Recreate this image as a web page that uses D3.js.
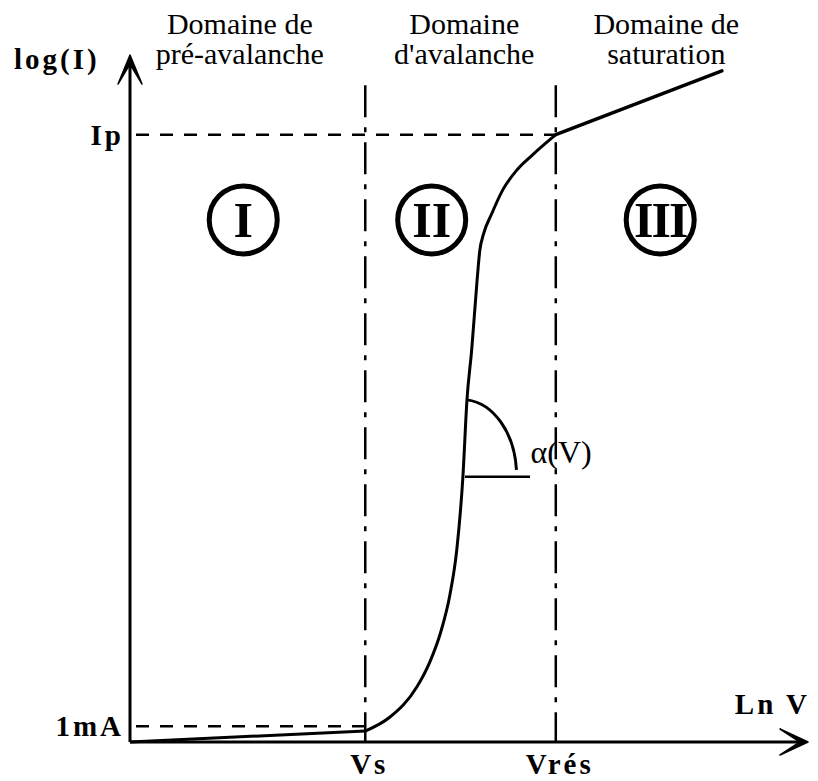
<!DOCTYPE html>
<html>
<head>
<meta charset="utf-8">
<script src="https://cdn.jsdelivr.net/npm/d3@7"></script>
<style>
  body { margin: 0; background: #fff; }
  svg { display: block; }
</style>
</head>
<body>
<div id="chart"></div>
<script>
// axis units are arbitrary: 0..100 along Ln V and log(I)
const preAvalanche = [[0, 0], [34.7, 1.6]]
const avalanche = [
  [34.7, 1.6], [38.3, 3.6], [42.3, 8.0], [44.2, 11.6], [45.8, 15.9],
  [47.2, 21.5], [48.2, 28.0], [49.1, 38.6], [49.7, 49.8], [50.4, 57.1],
  [51.2, 67.3], [51.6, 71.6], [52.1, 73.8], [53.4, 77.0], [55.0, 80.4],
  [57.1, 83.3], [59.3, 85.4], [62.8, 88.4]
]
const saturation = [[62.8, 88.4], [87.3, 97.7]]

const domainLines = [["Domaine de", "pré-avalanche"], ["Domaine", "d'avalanche"], ["Domaine de", "saturation"]]
const domainX = [16.2, 49.3, 79.1]

const regionNames = ["I", "II", "III"]
const regionX = [16.7, 44.5, 78.2]
const regionY = 76.0

const xMarks = [{ label: "Vs", v: 34.7 }, { label: "Vrés", v: 62.8 }]
const yMarks = [{ label: "Ip", v: 88.4, to: 62.8 }, { label: "1mA", v: 2.3, to: 34.7 }]
const markTop = 95.6

// slope angle marker alpha(V)
const alphaBase = [[49.4, 38.6], [59.0, 38.6]]
const alphaArc = [[49.7, 49.8], [57.0, 39.6]]

var width = 818, height = 781
var serif = "Times, Tinos, 'Times New Roman', serif"

var x = d3.scaleLinear().domain([0, 100]).range([130, 808])
var y = d3.scaleLinear().domain([0, 100]).range([742, 55])

const svg = d3.select("#chart")
  .append("svg")
  .attr("width", width)
  .attr("height", height)
  .attr("font-family", serif)

// dash-dot boundaries
svg.append("g")
  .selectAll("line")
  .data(xMarks)
  .join("line")
  .attr("x1", d => x(d.v)).attr("x2", d => x(d.v))
  .attr("y1", y(markTop)).attr("y2", y(0))
  .attr("stroke", "#000")
  .attr("stroke-width", 2.5)
  .attr("stroke-dasharray", "32,10,5,10")

// dashed levels
svg.append("g")
  .selectAll("line")
  .data(yMarks)
  .join("line")
  .attr("x1", x(0)).attr("x2", d => x(d.to))
  .attr("y1", d => y(d.v)).attr("y2", d => y(d.v))
  .attr("stroke", "#000")
  .attr("stroke-width", 2.5)
  .attr("stroke-dasharray", "13,11")
  .attr("stroke-dashoffset", -6)

// axes
svg.append("line")
  .attr("x1", x(0)).attr("x2", x(100) - 6)
  .attr("y1", y(0)).attr("y2", y(0))
  .attr("stroke", "#000").attr("stroke-width", 3)
svg.append("line")
  .attr("x1", x(0)).attr("x2", x(0))
  .attr("y1", y(0)).attr("y2", y(100) + 6)
  .attr("stroke", "#000").attr("stroke-width", 3)

svg.append("path")
  .attr("d", `M${x(100)},${y(0)} L${x(100) - 28},${y(0) - 13} L${x(100) - 8},${y(0)} L${x(100) - 28},${y(0) + 13} Z`)
  .attr("fill", "#000").attr("stroke", "#000").attr("stroke-width", 1.5).attr("stroke-linejoin", "round")
svg.append("path")
  .attr("d", `M${x(0)},${y(100)} L${x(0) - 12},${y(100) + 29} L${x(0)},${y(100) + 9} L${x(0) + 12},${y(100) + 29} Z`)
  .attr("fill", "#000").attr("stroke", "#000").attr("stroke-width", 1.5).attr("stroke-linejoin", "round")

// I-V curve
line = d3.line().x(d => x(d[0])).y(d => y(d[1]))
curve = d3.line().x(d => x(d[0])).y(d => y(d[1])).curve(d3.curveMonotoneX)

svg.append("path").attr("d", line(preAvalanche))
  .attr("fill", "none").attr("stroke", "#000").attr("stroke-width", 3)
svg.append("path").attr("d", curve(avalanche))
  .attr("fill", "none").attr("stroke", "#000").attr("stroke-width", 3)
svg.append("path").attr("d", line(saturation))
  .attr("fill", "none").attr("stroke", "#000").attr("stroke-width", 3.5).attr("stroke-linecap", "round")

// angle marker
svg.append("path").attr("d", line(alphaBase))
  .attr("fill", "none").attr("stroke", "#000").attr("stroke-width", 2.5)
var ax0 = x(alphaArc[0][0]), ay0 = y(alphaArc[0][1]), ax1 = x(alphaArc[1][0]), ay1 = y(alphaArc[1][1])
svg.append("path")
  .attr("d", `M${ax0},${ay0} A${ax1 - ax0 + 5},${ay1 - ay0 + 6} 0 0 1 ${ax1},${ay1}`)
  .attr("fill", "none").attr("stroke", "#000").attr("stroke-width", 3)
svg.append("text")
  .attr("x", ax1 + 14).attr("y", y(alphaBase[0][1]) - 14)
  .attr("font-size", 32)
  .text("α(V)")

// domain titles
svg.append("g")
  .selectAll("text")
  .data(domainLines)
  .join("text")
  .attr("text-anchor", "middle")
  .attr("font-size", 30)
  .attr("x", (d, i) => x(domainX[i]))
  .attr("y", 34)
  .call(t => t.append("tspan").attr("x", (d, i) => x(domainX[i])).text(d => d[0]))
  .call(t => t.append("tspan").attr("x", (d, i) => x(domainX[i])).attr("dy", 30).text(d => d[1]))

// circled region numbers
var reg = svg.append("g")
  .selectAll("g")
  .data(regionNames)
  .join("g")
  .attr("transform", (d, i) => `translate(${x(regionX[i])},${y(regionY)})`)
reg.append("circle")
  .attr("r", 34)
  .attr("fill", "none").attr("stroke", "#000").attr("stroke-width", 5)
reg.append("text")
  .attr("text-anchor", "middle")
  .attr("dy", "0.35em")
  .attr("font-size", 50)
  .attr("font-weight", "bold")
  .attr("letter-spacing", d => d.length > 2 ? -2 : 0)
  .text(d => d)

// axis labels
var bold = g => g.attr("font-weight", "bold").attr("font-size", 29).attr("letter-spacing", 3)

svg.append("text").call(bold)
  .attr("x", 14).attr("y", 69)
  .text("log(I)")

svg.append("g")
  .selectAll("text")
  .data(yMarks)
  .join("text").call(bold)
  .attr("text-anchor", "end")
  .attr("x", x(0) - 6)
  .attr("y", d => y(d.v))
  .attr("dy", "0.35em")
  .text(d => d.label)

svg.append("g")
  .selectAll("text")
  .data(xMarks)
  .join("text").call(bold)
  .attr("text-anchor", "middle")
  .attr("x", d => x(d.v) + 4)
  .attr("y", 774)
  .text(d => d.label)

svg.append("text").call(bold)
  .attr("text-anchor", "end")
  .attr("x", 810).attr("y", 714)
  .text("Ln V")
</script>
</body>
</html>
